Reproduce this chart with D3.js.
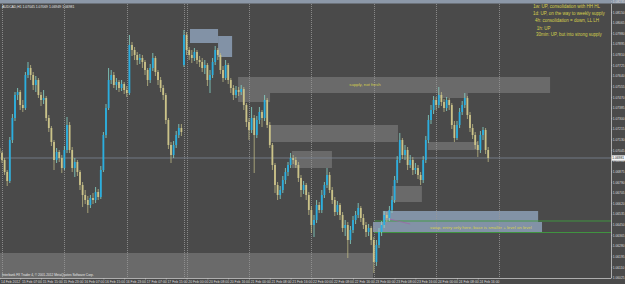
<!DOCTYPE html>
<html><head><meta charset="utf-8">
<script src="https://cdn.jsdelivr.net/npm/d3@7"></script>
<style>html,body{margin:0;padding:0;background:#4a4a4a;overflow:hidden}svg{display:block}</style>
</head><body><svg id="c" width="625" height="284"></svg>
<script>
const symbol = "AUDCAD,H1";
const opens = [
1.07061,1.07021,1.06965,1.06869,1.06797,1.07125,1.07301,1.07485,1.07509,1.07405,
1.07381,1.07645,1.07701,1.07645,1.07565,1.07605,1.07485,1.07445,1.07461,1.07301,
1.07221,1.07109,1.06965,1.07029,1.06981,1.06901,1.07045,1.07245,1.07045,1.06901,
1.06949,1.06869,1.06765,1.06685,1.06645,1.06605,1.06661,1.06645,1.06709,1.06669,
1.06885,1.07165,1.07381,1.07605,1.07645,1.07565,1.07589,1.07541,1.07573,1.07525,
1.07501,1.07885,1.07845,1.07805,1.07765,1.07781,1.07749,1.07685,1.07605,1.07701,
1.07781,1.07669,1.07605,1.07541,1.07485,1.07285,1.07085,1.07005,1.07085,1.07165,
1.07221,1.07725,1.07965,1.07845,1.07805,1.07781,1.07829,1.07765,1.07749,1.07701,
1.07725,1.07605,1.07645,1.07749,1.07845,1.07805,1.07685,1.07621,1.07725,1.07605,
1.07541,1.07485,1.07525,1.07509,1.07533,1.07405,1.07269,1.07205,1.07301,1.07165,
1.07285,1.07349,1.07301,1.07445,1.07245,1.07085,1.06925,1.06765,1.06685,1.06725,
1.06805,1.06869,1.06925,1.06981,1.06965,1.06925,1.06821,1.06725,1.06765,1.06685,
1.06565,1.06445,1.06485,1.06605,1.06565,1.06685,1.06765,1.06845,1.06725,1.06645,
1.06549,1.06605,1.06525,1.06421,1.06445,1.06325,1.06405,1.06485,1.06525,1.06581,
1.06501,1.06445,1.06389,1.06421,1.06325,1.06149,1.06285,1.06389,1.06445,1.06525,
1.06501,1.06565,1.06645,1.06805,1.06965,1.07125,1.07005,1.07045,1.06925,1.06965,
1.06885,1.06901,1.06845,1.06805,1.06965,1.07125,1.07285,1.07365,1.07445,1.07405,
1.07485,1.07429,1.07381,1.07445,1.07405,1.07245,1.07141,1.07245,1.07349,1.07405,
1.07461,1.07325,1.07221,1.07165,1.07085,1.07045,1.07165,1.07205,1.07045];
const highs = [
1.07085,1.07037,1.06981,1.06885,1.07149,1.07333,1.07509,1.07541,1.07525,1.07445,
1.07669,1.07749,1.07725,1.07669,1.07637,1.07621,1.07509,1.07525,1.07477,1.07325,
1.07237,1.07125,1.07061,1.07045,1.07005,1.07077,1.07309,1.07269,1.07069,1.06981,
1.06965,1.06885,1.06789,1.06725,1.06677,1.06685,1.06701,1.06749,1.06733,1.06917,
1.07189,1.07413,1.07701,1.07685,1.07669,1.07621,1.07605,1.07605,1.07589,1.07557,
1.07965,1.07909,1.07869,1.07829,1.07813,1.07805,1.07765,1.07701,1.07733,1.07821,
1.07797,1.07685,1.07629,1.07565,1.07501,1.07301,1.07109,1.07117,1.07197,1.07253,
1.07253,1.08005,1.07989,1.07869,1.07845,1.07861,1.07845,1.07797,1.07781,1.07765,
1.07741,1.07685,1.07781,1.07877,1.07861,1.07821,1.07717,1.07765,1.07741,1.07621,
1.07565,1.07557,1.07549,1.07565,1.07549,1.07421,1.07301,1.07389,1.07325,1.07317,
1.07389,1.07365,1.07485,1.07461,1.07269,1.07101,1.06941,1.06789,1.06757,1.06837,
1.06901,1.06949,1.07021,1.07005,1.06989,1.06949,1.06845,1.06797,1.06781,1.06709,
1.06597,1.06525,1.06645,1.06629,1.06725,1.06789,1.06901,1.06869,1.06749,1.06669,
1.06637,1.06621,1.06549,1.06485,1.06469,1.06437,1.06517,1.06557,1.06621,1.06597,
1.06533,1.06469,1.06453,1.06437,1.06349,1.06325,1.06421,1.06477,1.06557,1.06549,
1.06597,1.06677,1.06837,1.06997,1.07181,1.07141,1.07085,1.07069,1.07005,1.06989,
1.06941,1.06925,1.06869,1.06997,1.07157,1.07325,1.07405,1.07477,1.07469,1.07549,
1.07509,1.07453,1.07469,1.07461,1.07421,1.07277,1.07277,1.07381,1.07437,1.07501,
1.07477,1.07349,1.07253,1.07189,1.07117,1.07197,1.07229,1.07221,1.07069];
const lows = [
1.06997,1.06941,1.06845,1.06757,1.06781,1.07101,1.07277,1.07445,1.07365,1.07349,
1.07365,1.07621,1.07605,1.07525,1.07509,1.07461,1.07397,1.07413,1.07277,1.07189,
1.07077,1.06885,1.06941,1.06949,1.06861,1.06885,1.07021,1.07021,1.06869,1.06829,
1.06837,1.06725,1.06589,1.06613,1.06541,1.06581,1.06613,1.06621,1.06645,1.06653,
1.06869,1.07141,1.07365,1.07573,1.07541,1.07525,1.07509,1.07517,1.07493,1.07469,
1.07485,1.07797,1.07765,1.07725,1.07733,1.07701,1.07645,1.07557,1.07581,1.07677,
1.07637,1.07565,1.07509,1.07445,1.07253,1.07053,1.06941,1.06981,1.07061,1.07141,
1.07157,1.07709,1.07805,1.07765,1.07741,1.07757,1.07733,1.07709,1.07669,1.07653,
1.07557,1.07501,1.07621,1.07725,1.07765,1.07653,1.07589,1.07605,1.07573,1.07501,
1.07445,1.07461,1.07477,1.07485,1.07365,1.07229,1.07125,1.07181,1.06861,1.07141,
1.07253,1.07229,1.07277,1.07221,1.07061,1.06885,1.06701,1.06645,1.06653,1.06701,
1.06773,1.06837,1.06901,1.06933,1.06901,1.06789,1.06669,1.06693,1.06645,1.06525,
1.06381,1.06349,1.06461,1.06541,1.06541,1.06661,1.06741,1.06701,1.06613,1.06517,
1.06525,1.06485,1.06389,1.06357,1.06181,1.06293,1.06381,1.06453,1.06501,1.06469,
1.06413,1.06349,1.06357,1.06285,1.06061,1.06117,1.06261,1.06357,1.06421,1.06469,
1.06477,1.06541,1.06621,1.06781,1.06941,1.06973,1.06965,1.06885,1.06901,1.06845,
1.06853,1.06813,1.06765,1.06781,1.06941,1.07101,1.07253,1.07333,1.07365,1.07381,
1.07397,1.07349,1.07357,1.07365,1.07213,1.07109,1.07125,1.07221,1.07325,1.07381,
1.07293,1.07189,1.07133,1.07053,1.06989,1.07021,1.07125,1.07013,1.06949];
const closes = [
1.07021,1.06965,1.06869,1.06797,1.07125,1.07301,1.07485,1.07509,1.07405,1.07381,
1.07645,1.07701,1.07645,1.07565,1.07605,1.07485,1.07445,1.07461,1.07301,1.07221,
1.07109,1.06965,1.07029,1.06981,1.06901,1.07045,1.07245,1.07045,1.06901,1.06949,
1.06869,1.06765,1.06685,1.06645,1.06605,1.06661,1.06645,1.06709,1.06669,1.06885,
1.07165,1.07381,1.07605,1.07645,1.07565,1.07589,1.07541,1.07573,1.07525,1.07501,
1.07885,1.07845,1.07805,1.07765,1.07781,1.07749,1.07685,1.07605,1.07701,1.07781,
1.07669,1.07605,1.07541,1.07485,1.07285,1.07085,1.07005,1.07085,1.07165,1.07221,
1.07189,1.07965,1.07845,1.07805,1.07781,1.07829,1.07765,1.07749,1.07701,1.07725,
1.07605,1.07645,1.07749,1.07845,1.07805,1.07685,1.07621,1.07725,1.07605,1.07541,
1.07485,1.07525,1.07509,1.07533,1.07405,1.07269,1.07205,1.07301,1.07165,1.07285,
1.07349,1.07301,1.07445,1.07245,1.07085,1.06925,1.06765,1.06685,1.06725,1.06805,
1.06869,1.06925,1.06981,1.06965,1.06925,1.06821,1.06725,1.06765,1.06685,1.06565,
1.06445,1.06485,1.06605,1.06565,1.06685,1.06765,1.06845,1.06725,1.06645,1.06549,
1.06605,1.06525,1.06421,1.06445,1.06325,1.06405,1.06485,1.06525,1.06581,1.06501,
1.06445,1.06389,1.06421,1.06325,1.06149,1.06285,1.06389,1.06445,1.06525,1.06501,
1.06565,1.06645,1.06805,1.06965,1.07125,1.07005,1.07045,1.06925,1.06965,1.06885,
1.06901,1.06845,1.06805,1.06965,1.07125,1.07285,1.07365,1.07445,1.07405,1.07485,
1.07429,1.07381,1.07445,1.07405,1.07245,1.07141,1.07245,1.07349,1.07405,1.07461,
1.07325,1.07221,1.07165,1.07085,1.07045,1.07165,1.07205,1.07045,1.06981];

const timeTickIndex = [0,8,16,24,32,40,48,56,64,72,80,88,96,104,112,120,128,136,144,152,160,168,176,184];
const timeTickLabels = ["14 Feb 2012","15 Feb 07:00","15 Feb 15:00","15 Feb 23:00","16 Feb 07:00","16 Feb 15:00","16 Feb 23:00","17 Feb 07:00","17 Feb 15:00","20 Feb 00:00","20 Feb 08:00","20 Feb 16:00","21 Feb 00:00","21 Feb 08:00","21 Feb 16:00","22 Feb 00:00","22 Feb 08:00","22 Feb 16:00","23 Feb 00:00","23 Feb 08:00","23 Feb 16:00","24 Feb 00:00","24 Feb 08:00","24 Feb 16:00"];
const priceTicks = [1.08235,1.08150,1.08065,1.07980,1.07895,1.07810,1.07725,1.07640,1.07555,1.07470,1.07385,1.07300,1.07215,1.07130,1.07045,1.06960,1.06875,1.06790,1.06705,1.06620,1.06535,1.06450,1.06365,1.06280,1.06195,1.06110,1.06025];
const daySeparators = [1,25,49,71,72,96,120,144,168,192];

// zones: [startBar, endBar, topPrice, bottomPrice, kind]
const zones = [
  [-2, 143.7, 1.06221, 1.06000, "gray"],
  [91.8, 211.8, 1.07629, 1.07501, "gray"],
  [91.8, 104.1, 1.07501, 1.07429, "gray"],
  [168.7, 180.2, 1.07501, 1.07461, "gray"],
  [104.1, 153.3, 1.07245, 1.07109, "gray"],
  [112.5, 127.9, 1.07037, 1.06901, "gray"],
  [164.8, 184.1, 1.07109, 1.07045, "gray"],
  [151, 162.5, 1.06757, 1.06629, "gray"],
  [73.3, 84.1, 1.08013, 1.07901, "blue"],
  [84.1, 89.5, 1.07957, 1.07789, "blue"],
  [147.5, 207.2, 1.06557, 1.06469, "blue"],
  [143.7, 208.7, 1.06469, 1.06389, "blue"]
];
// notes: [bar, price, text]
const notes = [
  [140.6, 1.07557, "supply, not fresh"],
  [185.2, 1.06417, "swap, entry only here, base is smaller + level on level"]
];
const levels = [[144.3, 1.06477], [144.3, 1.06385]];
const trendSegment = [[150, 1.06493], [158, 1.06453]];
const commentLines = ["1w: UP, consolidation with HH HL","1d: UP, on the way to weekly supply","4h: consolidation = down, LL LH","1h: UP","30min: UP, but into strong supply"];
const copyright = "Interbank FX Trader 4, \u00a9 2001-2012 MetaQuotes Software Corp.";

const svg = d3.select("#c");
const FONT = "'Liberation Sans', Arial, sans-serif";
const plotR = 611, plotT = 4, plotB = 278;
const x = d3.scaleLinear().domain([0, 1]).range([-0.6, 2.0]);
const y = d3.scaleLinear().domain([1.06029, 1.08205]).range([277, 5]);

svg.append("rect").attr("width",625).attr("height",284).attr("fill","#4a4a4a");
svg.append("rect").attr("width",625).attr("height",3.5).attr("fill","#8c98a8");

const defs = svg.append("defs");
defs.append("clipPath").attr("id","pc").append("rect")
  .attr("x",0).attr("y",plotT).attr("width",plotR).attr("height",plotB-plotT);
const g = svg.append("g").attr("clip-path","url(#pc)");

const zoneFill = {gray:"#6a6a6a", blue:"#8292a6"};
g.selectAll("rect.zone").data(zones).join("rect").attr("class","zone")
  .attr("x", d => x(d[0])).attr("width", d => x(d[1]) - x(d[0]))
  .attr("y", d => y(d[2])).attr("height", d => y(d[3]) - y(d[2]))
  .attr("fill", d => zoneFill[d[4]]);

g.selectAll("line.sep").data(daySeparators).join("line").attr("class","sep")
  .attr("x1", d => Math.round(x(d)) + 0.5).attr("x2", d => Math.round(x(d)) + 0.5)
  .attr("y1", plotT).attr("y2", plotB)
  .attr("stroke","#999999").attr("stroke-width",0.8).attr("stroke-dasharray","1,1");

// current price line
const last = closes.length - 1;
g.append("line").attr("x1",0).attr("x2",plotR)
  .attr("y1", y(closes[last])).attr("y2", y(closes[last]))
  .attr("stroke","#7b8794").attr("stroke-width",0.8);

g.selectAll("line.lvl").data(levels).join("line").attr("class","lvl")
  .attr("x1", d => x(d[0])).attr("x2", plotR)
  .attr("y1", d => y(d[1])).attr("y2", d => y(d[1]))
  .attr("stroke","#3f9c3f").attr("stroke-width",0.9);

g.append("line")
  .attr("x1", x(trendSegment[0][0])).attr("y1", y(trendSegment[0][1]))
  .attr("x2", x(trendSegment[1][0])).attr("y2", y(trendSegment[1][1]))
  .attr("stroke","#a060a8").attr("stroke-width",0.7);

// candles
const bars = d3.range(closes.length);
const bull = i => closes[i] >= opens[i];
g.selectAll("line.wick").data(bars).join("line").attr("class","wick")
  .attr("x1", i => x(i)).attr("x2", i => x(i))
  .attr("y1", i => y(highs[i])).attr("y2", i => y(lows[i]))
  .attr("stroke", i => bull(i) ? "#86d8cc" : "#bdb784").attr("stroke-width",0.8);
g.selectAll("rect.body").data(bars).join("rect").attr("class","body")
  .attr("x", i => x(i) - 0.9).attr("width", 1.8)
  .attr("y", i => y(Math.max(opens[i], closes[i])))
  .attr("height", i => Math.max(0.6, Math.abs(y(opens[i]) - y(closes[i]))))
  .attr("fill", i => bull(i) ? "#2aaee0" : "#cbc389");

// notes
g.selectAll("text.note").data(notes).join("text").attr("class","note")
  .attr("x", d => x(d[0])).attr("y", d => y(d[1]))
  .attr("text-anchor","middle").attr("font-family",FONT).attr("font-size",4.3)
  .attr("fill","#d6d04c").text(d => d[2]);

// comment block
const cx = [533.3, 533, 535, 536.7, 536];
const cy = [7.6, 14.9, 22.3, 29.6, 36.3];
svg.selectAll("text.cm").data(commentLines).join("text").attr("class","cm")
  .attr("x", (d,i) => cx[i]).attr("y", (d,i) => cy[i])
  .attr("font-family",FONT).attr("font-size",4.5).attr("fill","#d6d04c").text(d => d);

// title
svg.append("text").attr("x",2).attr("y",8).attr("font-family",FONT).attr("font-size",3.4)
  .attr("fill","#e8e8e8")
  .text(symbol + "  " + [opens[last],highs[last],lows[last],closes[last]].map(d3.format(".5f")).join(" "));
svg.append("text").attr("x",2).attr("y",275.5).attr("font-family",FONT).attr("font-size",3.2)
  .attr("fill","#e8e8e8").text(copyright);

// price axis
const ay = svg.append("g").attr("transform",`translate(${plotR},0)`)
  .call(d3.axisRight(y).tickValues(priceTicks).tickFormat(d3.format(".5f")).tickSize(1.2).tickPadding(0.6));
ay.select(".domain").attr("stroke","#c8c8c8").attr("stroke-width",0.8).attr("d",`M0.5,${plotT}V${plotB}`);
ay.selectAll(".tick line").attr("stroke","#c8c8c8").attr("stroke-width",0.6);
ay.selectAll(".tick text").attr("font-family",FONT).attr("font-size",3.25).attr("fill","#dcdcdc").attr("dy","0.35em");

// current price tag
const cp = y(closes[last]);
svg.append("rect").attr("x",plotR+0.8).attr("y",cp-2.7).attr("width",13.2).attr("height",5.4).attr("fill","#f4f4f4");
svg.append("text").attr("x",plotR+1.3).attr("y",cp+1.2).attr("font-family",FONT).attr("font-size",3.25)
  .attr("fill","#222").text(d3.format(".5f")(closes[last]));

// time axis
const ax = svg.append("g").attr("transform",`translate(0,${plotB})`)
  .call(d3.axisBottom(x).tickValues(timeTickIndex).tickFormat((d,i) => timeTickLabels[i]).tickSize(1.5).tickPadding(0.6));
ax.select(".domain").attr("stroke","#c8c8c8").attr("stroke-width",0.8).attr("d",`M0,0.5H${plotR}`);
ax.selectAll(".tick line").attr("stroke","#c8c8c8").attr("stroke-width",0.6);
ax.selectAll(".tick text").attr("font-family",FONT).attr("font-size",3.4).attr("fill","#dcdcdc")
  .attr("text-anchor","start").attr("x",1.2).attr("dy","0.75em");
</script></body></html>
